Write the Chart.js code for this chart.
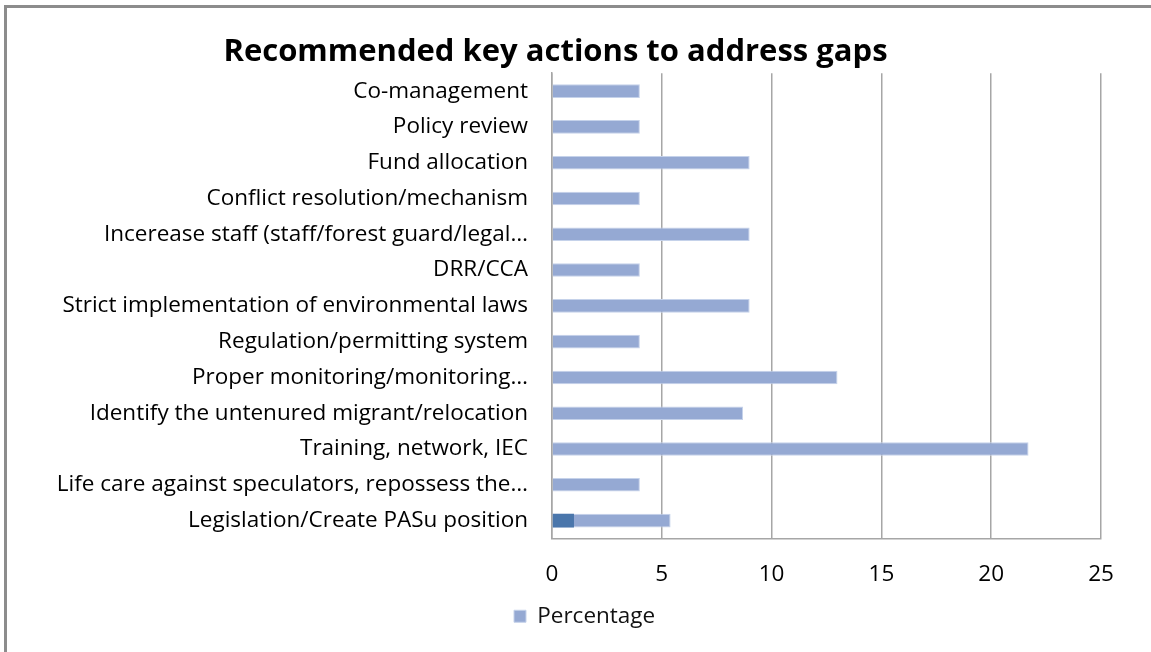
<!DOCTYPE html>
<html>
<head>
<meta charset="utf-8">
<script src="https://cdn.jsdelivr.net/npm/chart.js@4"></script>
<style>
html,body{margin:0;padding:0;background:#fff;overflow:hidden;}
#frame{position:absolute;left:4px;top:5px;width:1200px;height:700px;border:3px solid #8c8c8c;box-sizing:border-box;}
#wrap{position:absolute;left:0;top:0;width:1151px;height:652px;}
</style>
</head>
<body>
<div id="frame"></div>
<div id="wrap"><canvas id="c" width="1151" height="652"></canvas></div>
<script>
const categories = [
  "Co-management",
  "Policy review",
  "Fund allocation",
  "Conflict resolution/mechanism",
  "Incerease staff (staff/forest guard/legal\u2026",
  "DRR/CCA",
  "Strict implementation of environmental laws",
  "Regulation/permitting system",
  "Proper monitoring/monitoring\u2026",
  "Identify the untenured migrant/relocation",
  "Training, network, IEC",
  "Life care against speculators, repossess the\u2026",
  "Legislation/Create PASu position"
];
const percentage = [4, 4, 9, 4, 9, 4, 9, 4, 13, 8.7, 21.7, 4, 5.4];
const secondSeries = [null, null, null, null, null, null, null, null, null, null, null, null, 1];
const xTicks = [0, 5, 10, 15, 20, 25];

const FONT = "'Open Sans', 'Liberation Sans', sans-serif";
const PLOT_LEFT = 552;

const legendShift = {
  id: 'legendShift',
  afterLayout(chart) {
    const lg = chart.legend;
    const w = lg.right - lg.left;
    lg.left = 506;
    lg.right = 506 + w;
    const h = lg.bottom - lg.top;
    lg.top = 597;
    lg.bottom = 597 + h;
  }
};

new Chart(document.getElementById('c'), {
  type: 'bar',
  data: {
    labels: categories,
    datasets: [
      {
        label: 'Series2',
        data: secondSeries,
        backgroundColor: '#4A76AB',
        borderWidth: 0,
        grouped: false,
        order: 0,
        categoryPercentage: 1,
        barPercentage: 0.38
      },
      {
        label: 'Percentage',
        data: percentage,
        backgroundColor: '#95A9D3',
        borderColor: '#C5D2EA',
        borderWidth: 1,
        grouped: false,
        order: 1,
        categoryPercentage: 1,
        barPercentage: 0.38
      }
    ]
  },
  plugins: [legendShift],
  options: {
    indexAxis: 'y',
    responsive: false,
    animation: false,
    devicePixelRatio: 1,
    layout: { padding: { left: 10, right: 50, top: 0, bottom: 10 } },
    plugins: {
      title: {
        display: true,
        text: 'Recommended key actions to address gaps',
        color: '#000',
        font: { family: FONT, size: 31, weight: 'bold' },
        padding: { top: 34, bottom: 2 }
      },
      legend: {
        position: 'bottom',
        align: 'start',
        labels: {
          filter: (item) => item.text === 'Percentage',
          color: '#111',
          font: { family: FONT, size: 22.5 },
          boxWidth: 12,
          boxHeight: 12,
          padding: 8
        }
      },
      tooltip: { enabled: false }
    },
    scales: {
      x: {
        min: 0,
        max: 25,
        afterBuildTicks: (s) => { s.ticks = xTicks.map(v => ({ value: v })); },
        ticks: { color: '#000', font: { family: FONT, size: 22.5 }, padding: 23 },
        grid: { color: '#a6a6a6', lineWidth: 1.5, drawTicks: false },
        border: { color: '#a6a6a6', width: 1.5 },
        afterFit: (s) => { s.height = 63; }
      },
      y: {
        ticks: { color: '#000', font: { family: FONT, size: 22.5 }, padding: 24, autoSkip: false },
        grid: { display: false, drawTicks: false },
        border: { color: '#a6a6a6', width: 1.5 },
        afterFit: (s) => { s.width = PLOT_LEFT - 10; }
      }
    }
  }
});
</script>
</body>
</html>
